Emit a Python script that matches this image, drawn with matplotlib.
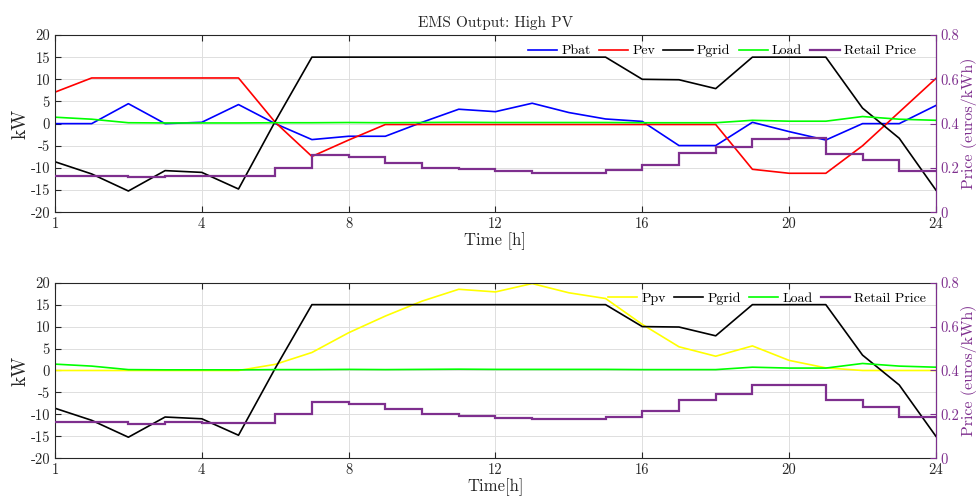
import matplotlib
matplotlib.use('Agg')
import matplotlib.pyplot as plt

# --- Daten ---
hours = list(range(25))
xtick_pos = [0, 4, 8, 12, 16, 20, 24]
xtick_labels = ['1', '4', '8', '12', '16', '20', '24']

p_bat = [0, 0, 4.5, 0, 0.3, 4.3, 0, -3.6, -2.85, -2.85, 0.3, 3.25, 2.7, 4.6, 2.5,
         1.05, 0.5, -4.95, -4.95, 0.3, -1.8, -3.7, 0, 0, 4.1]
p_ev = [7.1, 10.3, 10.3, 10.3, 10.3, 10.3, 0.3, -7.4, -3.7, -0.2, -0.2, -0.2, -0.2,
        -0.2, -0.2, -0.2, -0.2, -0.2, -0.2, -10.3, -11.2, -11.2, -5.0, 2.6, 10.2]
p_grid = [-8.6, -11.35, -15.2, -10.6, -11.0, -14.75, 0.5, 15, 15, 15, 15, 15, 15,
          15, 15, 15, 10.0, 9.9, 7.9, 15, 15, 15, 3.5, -3.3, -15]
load = [1.45, 1.0, 0.2, 0.15, 0.15, 0.15, 0.2, 0.2, 0.25, 0.2, 0.25, 0.3, 0.25, 0.25,
        0.25, 0.25, 0.2, 0.2, 0.2, 0.75, 0.55, 0.55, 1.6, 1.0, 0.75]
p_pv = [0, 0, 0, 0, 0, 0, 1.4, 4.1, 8.6, 12.4, 15.8, 18.5, 17.9, 19.8, 17.7, 16.4,
        10.5, 5.4, 3.25, 5.6, 2.3, 0.6, 0, 0, 0]
price = [0.165, 0.165, 0.158, 0.165, 0.162, 0.162, 0.201, 0.257, 0.248, 0.224, 0.200,
         0.194, 0.185, 0.177, 0.177, 0.190, 0.214, 0.266, 0.295, 0.332, 0.336, 0.265,
         0.235, 0.186]

# --- Stil ---
plt.rcParams['font.family'] = 'serif'
plt.rcParams['font.serif'] = ['cmr10']
plt.rcParams['mathtext.fontset'] = 'cm'
plt.rcParams['axes.unicode_minus'] = False
plt.rcParams['axes.formatter.use_mathtext'] = False

purple = '#7E2F8E'
dark = '#262626'
grid_col = '#dedede'


def setup_axes(ax, ax2, xlabel):
    ax.set_xlim(0, 24)
    ax.set_ylim(-20, 20)
    ax.set_xticks(xtick_pos)
    ax.set_xticklabels(xtick_labels)
    ax.set_yticks(range(-20, 21, 5))
    ax.set_yticklabels([str(v) for v in range(-20, 21, 5)])
    ax.grid(True, color=grid_col, linewidth=0.7)
    ax.set_axisbelow(True)
    ax.tick_params(direction='in', length=4, top=True, labelsize=10.5, colors=dark)
    for s in ['left', 'top', 'bottom']:
        ax.spines[s].set_color(dark)
    ax.set_ylabel('kW', fontsize=14, color=dark, labelpad=1)
    ax.set_xlabel(xlabel, fontsize=12, color=dark, labelpad=1)

    ax2.set_ylim(0, 0.8)
    ax2.set_yticks([0, 0.2, 0.4, 0.6, 0.8])
    ax2.set_yticklabels(['0', '0.2', '0.4', '0.6', '0.8'])
    ax2.tick_params(direction='in', length=4, colors=purple, labelsize=10.5)
    ax2.spines['right'].set_color(purple)
    ax2.spines['left'].set_visible(False)
    ax2.spines['top'].set_visible(False)
    ax2.spines['bottom'].set_visible(False)
    ax2.set_ylabel('Price (euros/kWh)', fontsize=11.5, color=purple, labelpad=1)


fig = plt.figure(figsize=(9.78, 5.04), dpi=100)
ax1 = fig.add_axes([0.0562, 0.5788, 0.9008, 0.3518])
ax1b = ax1.twinx()
ax3 = fig.add_axes([0.0562, 0.0907, 0.9008, 0.3484])
ax3b = ax3.twinx()

lw = 1.2

# oben: EMS mit EV
h1, = ax1.plot(hours, p_bat, color='#0000FF', lw=lw, label='Pbat')
h2, = ax1.plot(hours, p_ev, color='#FF0000', lw=lw, label='Pev')
h3, = ax1.plot(hours, p_grid, color='black', lw=lw, label='Pgrid')
h4, = ax1.plot(hours, load, color='#00FF00', lw=lw, label='Load')
h5 = ax1b.stairs(price, hours, baseline=None, color=purple, lw=1.6, label='Retail Price')
setup_axes(ax1, ax1b, 'Time [h]')
ax1.set_title('EMS Output: High PV', fontsize=11, color=dark, pad=6)
ax1b.legend(handles=[h1, h2, h3, h4, h5], loc='upper right', ncol=5, frameon=False,
            fontsize=10, handlelength=2.1, columnspacing=0.6, handletextpad=0.3,
            borderaxespad=0.3, bbox_to_anchor=(0.988, 1.0))

# unten: PV
g1, = ax3.plot(hours, p_pv, color='#FFFF00', lw=lw, label='Ppv')
g2, = ax3.plot(hours, p_grid, color='black', lw=lw, label='Pgrid')
g3, = ax3.plot(hours, load, color='#00FF00', lw=lw, label='Load')
g4 = ax3b.stairs(price, hours, baseline=None, color=purple, lw=1.6, label='Retail Price')
setup_axes(ax3, ax3b, 'Time[h]')
ax3b.legend(handles=[g1, g2, g3, g4], loc='upper right', ncol=4, frameon=False,
            fontsize=10, handlelength=2.1, columnspacing=0.6, handletextpad=0.3,
            borderaxespad=0.3)

fig.savefig('out.png', dpi=100)
